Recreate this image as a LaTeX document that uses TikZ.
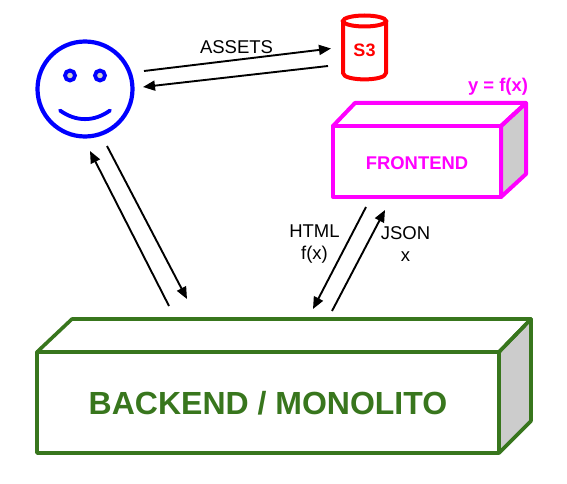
\documentclass[tikz,border=0pt]{standalone}
\usepackage{fontspec}
\setmainfont{Liberation Sans}
\usetikzlibrary{arrows.meta}
\definecolor{gr}{HTML}{38761D}
\definecolor{mg}{HTML}{FF00FF}
\definecolor{lg}{HTML}{CCCCCC}
\tikzset{
  x=1pt,y=-1pt,
  flow/.style={draw=black,line width=1.9pt,-{Triangle[length=12pt,width=10pt]}},
  lbl/.style={inner sep=0pt,align=center,font=\fontsize{18.5}{22}\selectfont},
  boxline/.style={line join=round,line cap=round},
  smile/.style={draw=blue,line width=3.8pt,line cap=round}
}
\begin{document}
\begin{tikzpicture}
\useasboundingbox (0,0) rectangle (567,484);
% face
\node[circle,draw=blue,line width=4.2pt,minimum size=95pt,inner sep=0pt] (face) at (85,89) {};
\node[circle,draw=blue,fill=lg,line width=3.8pt,minimum size=10pt,inner sep=0pt] (eyeL) at (70,75.5) {};
\node[circle,draw=blue,fill=lg,line width=3.8pt,minimum size=10pt,inner sep=0pt] (eyeR) at (100,75.5) {};
\coordinate (smL) at (60,110.5);
\coordinate (smR) at (110,110.5);
\draw[smile] (smL) .. controls (76,122) and (94,122) .. (smR);
% S3
\draw[red,line width=4pt,boxline] (343,21) -- (343,73) .. controls (343,81.5) and (386,81.5) .. (386,73) -- (386,21);
\draw[red,line width=4pt] (364.5,21) ellipse [x radius=21.5,y radius=5.5];
\node[red,lbl,font=\fontsize{18}{22}\selectfont\bfseries] (s3) at (364.5,50.5) {S3};
\coordinate (s3in) at (331,48.5);
\coordinate (s3out) at (328,66);
% frontend
\filldraw[draw=mg,fill=lg,line width=4pt,boxline] (501,126) -- (526,103) -- (526,174) -- (501,197) -- cycle;
\draw[mg,line width=4pt,boxline] (333,126) -- (355,103) -- (526,103) -- (501,126);
\draw[mg,line width=4pt,boxline] (333,126) rectangle (501,197);
\node[lbl,mg,font=\fontsize{18.4}{22}\selectfont\bfseries] (fe) at (417,163) {FRONTEND};
\node[lbl,mg,font=\fontsize{18.4}{22}\selectfont\bfseries] (yfx) at (498,87) {y = f(x)};
% backend
\filldraw[draw=gr,fill=lg,line width=3.6pt,boxline] (499,352) -- (531,319) -- (531,421) -- (499,453) -- cycle;
\draw[gr,line width=3.6pt,boxline] (37,352) -- (72,319) -- (531,319) -- (499,352);
\draw[gr,line width=3.6pt,boxline] (37,352) rectangle (499,453);
\node[lbl,gr,font=\fontsize{32}{38}\selectfont\bfseries] (be) at (268,403.5) {BACKEND / MONOLITO};
% arrow ends
\coordinate (fa1) at (144,71);
\coordinate (fa2) at (143,87);
\coordinate (fb1) at (107,146);
\coordinate (bf1) at (187,299);
\coordinate (bf2) at (169,306);
\coordinate (fb2) at (90,151);
\coordinate (fe1) at (366,207);
\coordinate (be1) at (313,309);
\coordinate (be2) at (332,311);
\coordinate (fe2) at (385,210);
\draw[flow] (fa1) -- (s3in);
\draw[flow] (s3out) -- (fa2);
\draw[flow] (fb1) -- (bf1);
\draw[flow] (bf2) -- (fb2);
\draw[flow] (fe1) -- (be1);
\draw[flow] (be2) -- (fe2);
% labels
\node[lbl] (assets) at (236.5,47) {ASSETS};
\node[lbl] (html) at (314.5,244) {HTML\\f(x)};
\node[lbl] (json) at (405.5,244) {JSON\\x};
\end{tikzpicture}
\end{document}
